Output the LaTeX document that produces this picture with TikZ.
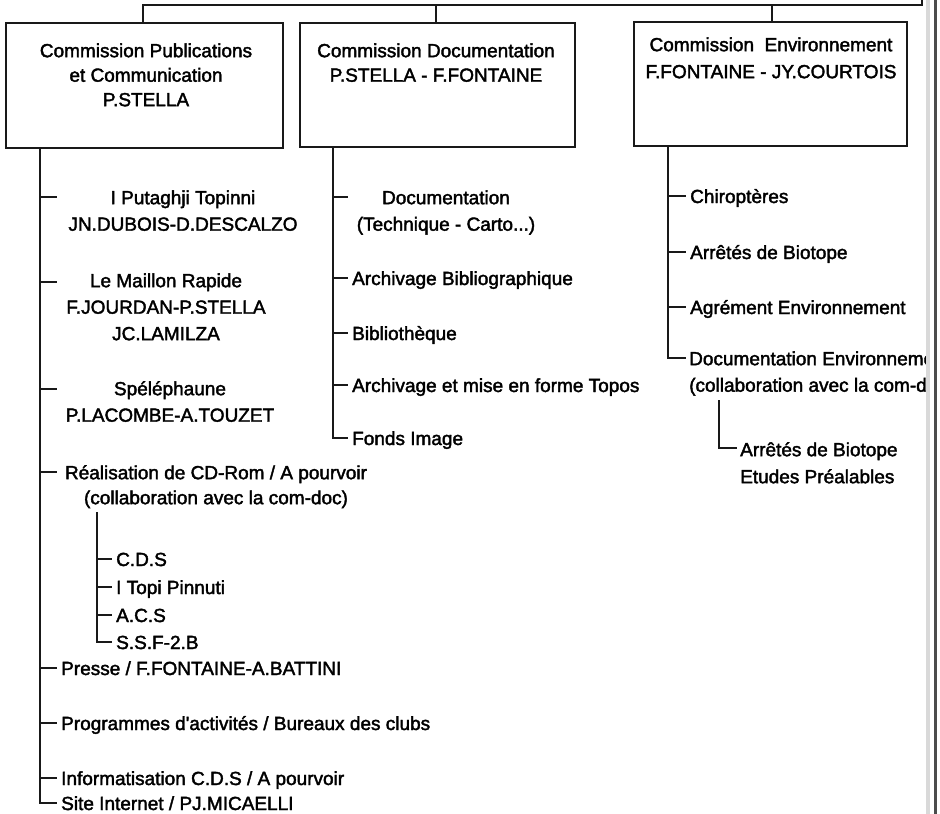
\documentclass[tikz,border=0pt]{standalone}
\usepackage{fontspec}
\setmainfont{Liberation Sans}
\newfontfamily\scanfont{Liberation Sans}[FakeBold=2]
\newcommand\mystrut{\rule{0pt}{15pt}}
\begin{document}
\begin{tikzpicture}[x=1pt,y=-1pt,
  wire/.style={draw=black!90, line width=1.3pt},
  box/.style={draw=black!90, line width=1.3pt, inner sep=0pt},
  ttl/.style={anchor=north, align=center, inner sep=0pt, font=\scanfont\fontsize{19}{24.5}\selectfont},
  mtxt/.style={anchor=north, align=center, inner sep=0pt, font=\scanfont\fontsize{19}{26.5}\selectfont},
  ltxt/.style={anchor=north west, align=left, inner sep=0pt, font=\scanfont\fontsize{19}{26.5}\selectfont},
  item/.style={anchor=west, inner xsep=4pt, inner ysep=0pt, text height=14pt, text depth=0pt, font=\scanfont\fontsize{19}{23}\selectfont}]
\useasboundingbox (0,0) rectangle (940,814);
\fill[white] (0,0) rectangle (940,814);

% ---- commission boxes
\node[box, minimum width=277pt, minimum height=125pt] (b1) at (144.5,85.5) {};
\node[box, minimum width=275pt, minimum height=124pt] (b2) at (437.5,85) {};
\node[box, minimum width=273pt, minimum height=124pt] (b3) at (770.5,84) {};
\node[ttl] (t1) at (146,42) {\mystrut Commission Publications\\et Communication\\P.STELLA};
\node[ttl] (t2) at (436,42) {\mystrut Commission Documentation\\P.STELLA - F.FONTAINE};
\node[ttl, font=\scanfont\fontsize{19}{27}\selectfont] (t3) at (771,36) {\mystrut Commission\ \ Environnement\\F.FONTAINE - JY.COURTOIS};

% ---- top bus
\coordinate (riser) at (922,0);
\coordinate (busR) at (922,5);
\coordinate (busL) at (143,5);
\coordinate (j2) at (436,5);
\coordinate (j3) at (772,5);
\draw[wire] (riser) -- (busR) -- (busL) -- (busL |- b1.north);
\draw[wire] (j2) -- (j2 |- b2.north);
\draw[wire] (j3) -- (j3 |- b3.north);

% ---- left column
\coordinate (L) at (40,0);
\coordinate (k1) at (57,197);
\coordinate (k2) at (57,282);
\coordinate (k3) at (57,389);
\coordinate (k4) at (57,472);
\node[mtxt] (put) at (183,189) {\mystrut I Putaghji Topinni\\JN.DUBOIS-D.DESCALZO};
\node[mtxt] (mail) at (166,272) {\mystrut Le Maillon Rapide\\F.JOURDAN-P.STELLA\\JC.LAMILZA};
\node[mtxt] (spel) at (170,380) {\mystrut Spéléphaune\\P.LACOMBE-A.TOUZET};
\node[mtxt, font=\scanfont\fontsize{19}{25}\selectfont] (cdrom) at (216,464) {\mystrut Réalisation de CD-Rom / A pourvoir\\(collaboration avec la com-doc)};
\node[item] (presse) at (57,668) {Presse / F.FONTAINE-A.BATTINI};
\node[item] (prog) at (57,723) {Programmes d'activités / Bureaux des clubs};
\node[item] (info) at (57,778) {Informatisation C.D.S / A pourvoir};
\node[item] (site) at (57,803) {Site Internet / PJ.MICAELLI};
\draw[wire] (b1.south -| L) |- (site.west);
\foreach \k in {k1,k2,k3,k4} \draw[wire] (\k -| L) -- (\k);
\foreach \n in {presse,prog,info} \draw[wire] (\n.west -| L) -- (\n.west);

% sub-list CD-Rom
\coordinate (S) at (97,512);
\node[item] (cds) at (112,559) {C.D.S};
\node[item] (topi) at (112,587) {I Topi Pinnuti};
\node[item] (acs) at (112,615) {A.C.S};
\node[item] (ssf) at (112,642) {S.S.F-2.B};
\draw[wire] (S) |- (ssf.west);
\foreach \n in {cds,topi,acs} \draw[wire] (\n.west -| S) -- (\n.west);

% ---- middle column
\coordinate (M) at (333,0);
\coordinate (k5) at (348,197);
\node[mtxt] (doc) at (446,189) {\mystrut Documentation\\(Technique - Carto...)};
\node[item] (archb) at (348,278) {Archivage Bibliographique};
\node[item] (biblio) at (348,333) {Bibliothèque};
\node[item] (archt) at (348,385) {Archivage et mise en forme Topos};
\node[item] (fonds) at (348,438) {Fonds Image};
\draw[wire] (b2.south -| M) |- (fonds.west);
\draw[wire] (k5 -| M) -- (k5);
\foreach \n in {archb,biblio,archt} \draw[wire] (\n.west -| M) -- (\n.west);

% ---- right column
\coordinate (R) at (668,0);
\coordinate (k6) at (686,358);
\node[item] (chiro) at (686,196) {Chiroptères};
\node[item] (arr) at (686,252) {Arrêtés de Biotope};
\node[item] (agr) at (686,307) {Agrément Environnement};
\begin{scope}
\clip (0,0) rectangle (929,814);
\node[ltxt] (docenv) at (689,350) {\mystrut Documentation Environnement\\(collaboration avec la com-doc)};
\end{scope}
\draw[wire] (b3.south -| R) |- (k6);
\foreach \n in {chiro,arr,agr} \draw[wire] (\n.west -| R) -- (\n.west);
\coordinate (S2) at (719,400);
\coordinate (k7) at (737,448);
\node[ltxt, font=\scanfont\fontsize{19}{27}\selectfont] (etud) at (740,441) {\mystrut Arrêtés de Biotope\\Etudes Préalables};
\draw[wire] (S2) |- (k7);

% ---- page edge
\draw[black!15, line width=4pt] (928,0) -- (928,814);
\draw[black!70, line width=3pt] (935,0) -- (935,814);
\end{tikzpicture}
\end{document}
